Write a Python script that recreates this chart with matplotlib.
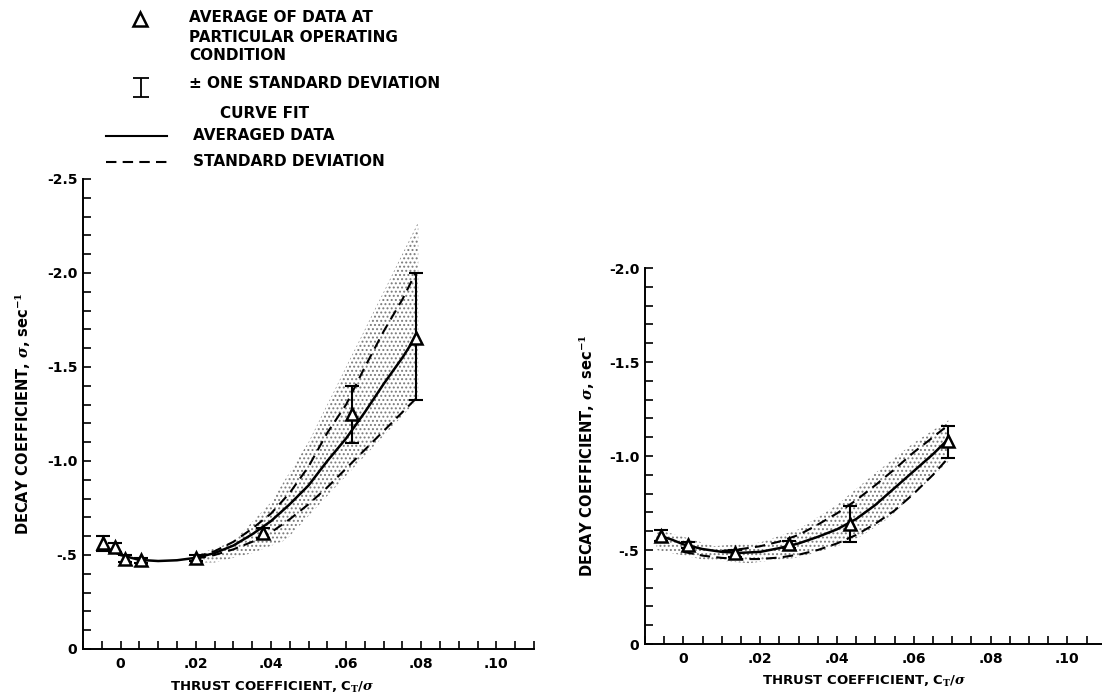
import numpy as np
import matplotlib
matplotlib.use("Agg")
import matplotlib.pyplot as plt
from matplotlib.ticker import MultipleLocator, FixedLocator, FixedFormatter

plt.rcParams['font.family'] = ['DejaVu Sans']
plt.rcParams['font.weight'] = 'bold'
plt.rcParams['hatch.linewidth'] = 0.9
plt.rcParams['mathtext.fontset'] = 'dejavuserif'

# ---- left panel data (decay coefficient, sec^-1) ----
left_x = [-0.0048, -0.0016, 0.0011, 0.0055, 0.020, 0.038, 0.0615, 0.0785]
left_avg = [-0.565, -0.54, -0.48, -0.473, -0.484, -0.617, -1.25, -1.655]
left_hi = [-0.60, -0.565, -0.50, -0.485, -0.50, -0.645, -1.40, -2.0]
left_lo = [-0.52, -0.515, -0.465, -0.46, -0.47, -0.59, -1.096, -1.325]

left_fit_x = [-0.005, 0.0, 0.005, 0.01, 0.015, 0.02, 0.025, 0.03, 0.035, 0.04,
              0.045, 0.05, 0.055, 0.06, 0.065, 0.07, 0.075, 0.0785]
left_fit = [-0.55, -0.50, -0.474, -0.468, -0.472, -0.485, -0.51, -0.55, -0.61, -0.68,
            -0.77, -0.87, -1.00, -1.12, -1.26, -1.41, -1.55, -1.66]

left_sd_x = [0.02, 0.025, 0.03, 0.035, 0.04, 0.045, 0.05, 0.055, 0.06, 0.065,
             0.07, 0.075, 0.0785]
left_sd_hi = [-0.49, -0.52, -0.57, -0.64, -0.72, -0.83, -0.97, -1.15, -1.30, -1.50,
              -1.69, -1.86, -2.0]
left_sd_lo = [-0.48, -0.50, -0.53, -0.57, -0.62, -0.69, -0.77, -0.86, -0.96, -1.06,
              -1.16, -1.26, -1.33]

left_band_x = [0.02, 0.03, 0.04, 0.05, 0.06, 0.07, 0.0792, 0.0792, 0.044, 0.035, 0.025, 0.02]
left_band_y = [-0.50, -0.57, -0.78, -1.10, -1.50, -1.90, -2.27, -1.33, -0.58, -0.51, -0.46, -0.46]

# ---- right panel data ----
right_x = [-0.0058, 0.0012, 0.0135, 0.0274, 0.0435, 0.0688]
right_avg = [-0.575, -0.527, -0.483, -0.531, -0.637, -1.08]
right_hi = [-0.605, -0.545, -0.50, -0.55, -0.735, -1.16]
right_lo = [-0.55, -0.51, -0.465, -0.51, -0.54, -0.99]

right_fit_x = [-0.006, -0.003, 0.0, 0.005, 0.01, 0.015, 0.02, 0.025, 0.03, 0.035,
               0.04, 0.045, 0.05, 0.055, 0.06, 0.065, 0.069]
right_fit = [-0.575, -0.555, -0.53, -0.505, -0.49, -0.485, -0.49, -0.51, -0.535, -0.57,
             -0.61, -0.665, -0.74, -0.83, -0.92, -1.01, -1.09]

right_hi_x = [0.01, 0.015, 0.02, 0.025, 0.03, 0.035, 0.04, 0.045, 0.05, 0.055, 0.06, 0.065, 0.069]
right_sd_hi = [-0.495, -0.505, -0.52, -0.545, -0.58, -0.635, -0.695, -0.765, -0.845,
               -0.93, -1.02, -1.10, -1.165]
right_lo_x = [0.0, 0.005, 0.01, 0.015, 0.02, 0.025, 0.03, 0.035, 0.04, 0.045, 0.05,
              0.055, 0.06, 0.065, 0.069]
right_sd_lo = [-0.49, -0.47, -0.458, -0.452, -0.452, -0.46, -0.475, -0.50, -0.535,
               -0.58, -0.64, -0.71, -0.80, -0.90, -0.99]

right_band_x = [-0.007, 0.0, 0.008, 0.02, 0.03, 0.04, 0.05, 0.06, 0.069,
                0.069, 0.0535, 0.046, 0.04, 0.03, 0.017, 0.005, -0.007]
right_band_y = [-0.61, -0.57, -0.52, -0.54, -0.61, -0.74, -0.91, -1.07, -1.19,
                -0.97, -0.67, -0.57, -0.52, -0.46, -0.43, -0.45, -0.50]

x_ticks = [0, 0.02, 0.04, 0.06, 0.08, 0.10]
x_tick_labels = ['0', '.02', '.04', '.06', '.08', '.10']

W, H = 1102, 693
fig = plt.figure(figsize=(W / 100, H / 100), dpi=100)


def panel(rect, ymax, y_labels, xs, avg, hi, lo, fx, fy, hx, hy, lx, ly, bx, by, xmax):
    ax = fig.add_axes(rect)
    # stippled scatter band
    ax.fill(bx, by, facecolor='white', edgecolor='#7a7a7a', hatch='....', linewidth=0, zorder=1)
    ax.plot(fx, fy, color='black', lw=1.8, zorder=3)
    ax.plot(hx, hy, color='black', lw=1.5, ls=(0, (5, 3)), zorder=3)
    ax.plot(lx, ly, color='black', lw=1.5, ls=(0, (5, 3)), zorder=3)
    a = np.array(avg)
    top = np.minimum(hi, lo)
    bot = np.maximum(hi, lo)
    ax.errorbar(xs, a, yerr=[a - top, bot - a], fmt='none', ecolor='black',
                elinewidth=1.5, capsize=5, capthick=1.5, zorder=4)
    ax.plot(xs, a, ls='none', marker='^', ms=9, mfc='white', mec='black', mew=1.8, zorder=5)

    ax.set_xlim(-0.01, xmax)
    ax.set_ylim(0, ymax)
    ax.spines['top'].set_visible(False)
    ax.spines['right'].set_visible(False)
    ax.spines['left'].set_linewidth(1.4)
    ax.spines['bottom'].set_linewidth(1.4)
    ax.xaxis.set_major_locator(FixedLocator(x_ticks))
    ax.xaxis.set_major_formatter(FixedFormatter(x_tick_labels))
    ax.xaxis.set_minor_locator(MultipleLocator(0.005))
    ytk = [-0.5 * i for i in range(len(y_labels))][::-1]
    ax.yaxis.set_major_locator(FixedLocator(ytk))
    ax.yaxis.set_major_formatter(FixedFormatter(y_labels))
    ax.yaxis.set_minor_locator(MultipleLocator(0.1))
    ax.tick_params(which='both', direction='in', length=6, width=1.2)
    ax.tick_params(axis='x', labelsize=10, pad=6)
    ax.tick_params(axis='y', labelsize=10, pad=4)
    ax.set_ylabel(r'DECAY COEFFICIENT, $\sigma$, sec$^{-1}$', fontsize=10.5, fontweight='bold')
    ax.set_xlabel(r'THRUST COEFFICIENT, C$_\mathbf{T}$/$\sigma$', fontsize=9.5, fontweight='bold',
                  labelpad=2)
    return ax


ax1 = panel([83 / W, 44 / H, 451 / W, 470 / H], -2.5,
            ['-2.5', '-2.0', '-1.5', '-1.0', '-.5', '0'],
            left_x, left_avg, left_hi, left_lo, left_fit_x, left_fit,
            left_sd_x, left_sd_hi, left_sd_x, left_sd_lo, left_band_x, left_band_y, 0.11)
ax1.xaxis.set_label_coords(0.42, -0.065)
ax1.yaxis.set_label_coords(-0.11, 0.5)

ax2 = panel([645 / W, 49 / H, 457 / W, 376 / H], -2.0,
            ['-2.0', '-1.5', '-1.0', '-.5', '0'],
            right_x, right_avg, right_hi, right_lo, right_fit_x, right_fit,
            right_hi_x, right_sd_hi, right_lo_x, right_sd_lo, right_band_x, right_band_y, 0.109)
ax2.xaxis.set_label_coords(0.48, -0.08)
ax2.yaxis.set_label_coords(-0.105, 0.5)

# ---- key at top left, in pixel coordinates ----
key = fig.add_axes([0, 0, 1, 1])
key.set_xlim(0, W)
key.set_ylim(H, 0)
key.axis('off')
key.patch.set_alpha(0)
fs = 11
key.plot([140], [19], marker='^', ms=10, mfc='white', mec='black', mew=1.8)
key.text(189, 18, 'AVERAGE OF DATA AT', fontsize=fs, va='center')
key.text(189, 37, 'PARTICULAR OPERATING', fontsize=fs, va='center')
key.text(189, 56, 'CONDITION', fontsize=fs, va='center')
key.errorbar([141], [87.5], yerr=[[9.5], [9.5]], fmt='none', ecolor='black',
             elinewidth=1.3, capsize=6, capthick=1.3)
key.text(189, 83, '± ONE STANDARD DEVIATION', fontsize=fs, va='center')
key.text(220, 113, 'CURVE FIT', fontsize=fs, va='center')
key.plot([106, 167], [136, 136], color='black', lw=1.5)
key.text(193, 136, 'AVERAGED DATA', fontsize=fs, va='center')
key.plot([106, 167], [162, 162], color='black', lw=1.5, ls=(0, (5, 3)))
key.text(193, 162, 'STANDARD DEVIATION', fontsize=fs, va='center')

plt.savefig('out.png', dpi=100)
